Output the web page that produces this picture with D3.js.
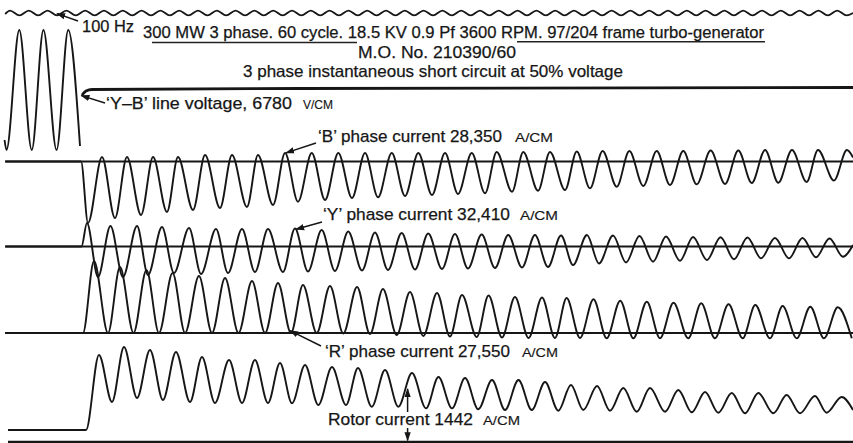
<!DOCTYPE html>
<html lang="en">
<head>
<meta charset="UTF-8" />
<title>3 phase short circuit oscillogram</title>
<script src="https://d3js.org/d3.v7.min.js"></script>
<style>
  body { margin: 0; background: #fff; font-family: "Liberation Sans", Arial, sans-serif; }
  svg { display: block; }
  .trace { fill: none; stroke: #161616; stroke-width: 1.9px; stroke-linejoin: round; }
  .thick { fill: none; stroke: #161616; stroke-width: 2.8px; }
  .zero { stroke: #161616; stroke-width: 2.1px; }
  .rule { stroke: #222; stroke-width: 1.5px; }
  .arrow { stroke: #161616; stroke-width: 1.5px; }
  text { fill: #161616; stroke: #161616; stroke-width: 0.25px; }
</style>
</head>
<body>
<svg id="chart"></svg>
<script>
// time in ms from the moment of the short circuit, deflection in mm of film

const headerText = [
  "100 Hz",
  "300 MW 3 phase. 60 cycle. 18.5 KV 0.9 Pf 3600 RPM. 97/204 frame turbo-generator",
  "M.O. No. 210390/60",
  "3 phase instantaneous short circuit at 50% voltage"
];
const traceNames = ["‘Y–B’ line voltage, 6780", "‘B’ phase current 28,350", "‘Y’ phase current 32,410",
                    "‘R’ phase current 27,550", "Rotor current 1442"];
const traceUnits = ["V/CM", "A/CM", "A/CM", "A/CM", "A/CM"];

// 100 Hz timing wave, peaks and troughs
const timing100Hz = [[-48,-0.5],[-45,1.2],[-39.1,-1.2],[-33.25,1.2],[-27.4,-1.2],[-21.5,1.2],[-15.6,-1.2],[-9.75,1.2],[-3.9,-1.2],
  [2,1.2],[7.9,-1.2],[13.75,1.2],[19.6,-1.2],[25.5,1.2],[31.4,-1.2],[37.25,1.2],[43.1,-1.2],[49,1.2],[54.9,-1.2],
  [60.75,1.2],[66.6,-1.2],[72.5,1.2],[78.4,-1.2],[84.25,1.2],[90.1,-1.2],[96,1.2],[101.9,-1.2],[107.75,1.2],[113.6,-1.2],
  [119.5,1.2],[125.4,-1.2],[131.25,1.2],[137.1,-1.2],[143,1.2],[148.9,-1.2],[154.75,1.2],[160.6,-1.2],[166.5,1.2],[172.4,-1.2],
  [178.25,1.2],[184.1,-1.2],[190,1.2],[195.9,-1.2],[201.75,1.2],[207.6,-1.2],[213.5,1.2],[219.4,-1.2],[225.25,1.2],[231.1,-1.2],
  [237,1.2],[242.9,-1.2],[248.75,1.2],[254.6,-1.2],[260.5,1.2],[266.4,-1.2],[272.25,1.2],[278.1,-1.2],[284,1.2],[289.9,-1.2],
  [295.75,1.2],[301.6,-1.2],[307.5,1.2],[313.4,-1.2],[319.25,1.2],[325.1,-1.2],[331,1.2],[336.9,-1.2],[342.75,1.2],[348.6,-1.2],
  [354.5,1.2],[360.4,-1.2],[366.25,1.2],[372.1,-1.2],[378,1.2],[383.9,-1.2],[389.75,1.2],[395.6,-1.2],[401.5,1.2],[407.4,-1.2],
  [413.25,1.2],[419.1,-1.2],[425,1.2],[430.9,-1.2],[436.75,1.2],[442.6,-1.2],[448.5,1.2],[454.4,-1.2],[460.25,1.2],[466.1,-1.2],
  [472,1.2],[477.9,-1.2],[481.9,0]];

// Y-B line voltage before and after the fault
const voltageBefore = [[-48.4,-25],[-47.2,-30],[-39.2,30],[-31.4,-30],[-24.1,30],[-15.9,-30],[-8.6,30],[-1.25,-28]];
const voltageAfter = [[0,-2.5],[2.5,-0.5],[6.25,0.25],[136,0.75],[481.9,1.25]];

const bPhase = [[-48,0],[-0.6,0],[3.75,-30.75],[12.5,2.25],[20.6,-28.25],[28.1,2.25],[36.9,-26.75],[44.4,2.25],[53.1,-25.25],
  [60,2.25],[69.4,-24.25],[76.9,3.25],[86.25,-23.25],[93.75,3.25],[103.1,-22.75],[110,3.25],[119.4,-21.75],[126.9,4.25],
  [135,-20.1],[143.6,4.25],[151.9,-19.25],[160.2,4.25],[168.75,-18.25],[176.9,4.25],[185,-17.9],[193.6,4.25],[201.9,-17.25],
  [210.2,4.25],[218.75,-16.75],[226.9,4.25],[235,-16.25],[243.6,4.25],[251.9,-15.9],[259.2,4.75],[268.75,-15.1],[275.8,4.75],
  [285,-14.6],[292.5,4.75],[301.9,-14.25],[309.2,5],[317.5,-13.4],[325.4,5.25],[334.2,-12.6],[342.1,5.25],[350.8,-12.25],
  [359.2,5.25],[367.5,-11.75],[375.8,5.25],[384.2,-11.4],[392.9,5.5],[401.9,-11.25],[410.2,5.5],[418.6,-10.75],[426.9,5.75],
  [435.2,-10.6],[443.75,5.75],[452.9,-10.25],[460,5.75],[470,-9.5],[478.1,5.75],[481.9,2]];

const yPhase = [[-48,0],[-0.3,0],[3.1,11.75],[10,-15.25],[17.8,10.25],[25.6,-15.25],[34.4,10.25],[41.25,-14.25],[50,9.75],
  [57.5,-13.25],[66.9,9.25],[74.4,-13.75],[83.75,8.75],[91.25,-13.25],[100,8.75],[108.1,-12.75],[116.25,8.75],[125.6,-12.75],
  [133.1,9],[141.25,-12.5],[149.8,8.25],[158.1,-12.25],[166.4,7.5],[175,-12],[183.1,7],[191.25,-11.75],[199.8,6.75],
  [208.1,-11.5],[216.4,6.5],[225,-11.25],[233.1,6.25],[241.25,-11],[249.8,6],[258.1,-10.75],[266.4,5.75],[275,-10.5],
  [283.1,5.75],[291.25,-10.25],[299.4,5.5],[306.9,-9.25],[315.6,5.75],[323.1,-8.5],[331.9,5.5],[340,-8],[348.4,5.25],
  [356.9,-7.6],[365,5],[373.75,-7.1],[381.9,4.75],[390.6,-6.75],[399.1,4.6],[407.5,-6.4],[415.9,4.5],[424.4,-5.9],
  [433.1,4.25],[441.9,-5.9],[450.3,4.25],[458.75,-5.4],[467.2,4],[475.6,-5.1],[481.9,0.75]];

const rPhase = [[-48,0],[0.6,0],[7.5,36],[16.25,0],[23.75,33],[32.2,0],[40.3,31.5],[48.1,0],[56.6,30],[64.4,0],[73.1,28.5],
  [81.25,0],[89.4,27.5],[97.8,0],[106.25,26],[114.4,0],[122.5,25],[130.6,0],[138.1,24],[146.7,0],[155,23.5],[163.3,-0.25],
  [171.9,23],[180,-0.5],[188.1,22],[196.7,-1],[205,20.5],[213.3,-1.5],[221.9,20],[230,-1.75],[237.5,19],[246.7,-2],
  [254.1,18.75],[262.5,-2.25],[270.6,18],[279.1,-2.5],[287.5,17.75],[295.6,-2.5],[302.9,17.5],[311.25,-2.5],[319.7,16.85],
  [327.9,-2.65],[336.4,16.15],[344.6,-2.65],[353,15.65],[361.25,-2.65],[369.7,15.15],[378.9,-2.65],[387,14.85],[395.6,-2.65],
  [404.1,14.35],[412.9,-2.65],[420.8,14],[430,-2.65],[437.9,13.5],[446.7,-2.65],[455.2,13.15],[463.75,-2.65],[472.4,12.85],
  [481.1,-2.65]];

const rotor = [[-46.25,6],[2.5,6],[10.6,43.5],[18.75,20],[26.25,47.5],[34.4,22],[42.5,46],[50.6,21],[58.75,45],[67.5,20],
  [75,42.5],[83.1,19.5],[91.9,41],[100,19.5],[108.1,41],[116.25,19.5],[123.75,39.5],[131.25,19.35],[139.4,38.5],[147.7,18.5],
  [156.25,37.5],[165,18.5],[172.5,37],[181.1,17.65],[189.4,36],[197.7,17.65],[206.25,34.5],[215,16.85],[222.8,32.5],
  [231.25,16.85],[239.4,32],[247.7,16.35],[256.25,31],[264.4,16],[272.8,31],[281.1,16],[289.4,30],[297.7,15.65],[305.6,28.5],
  [313.3,16],[321.9,28],[330,15.65],[338.3,27],[346.7,15.15],[355,27],[364.4,15.15],[372.7,26],[381.1,14.85],[389.4,25],
  [397.7,14.65],[406.1,24.5],[414.4,14.35],[422.7,24.5],[432.1,14.35],[440.4,23.5],[448.75,14.35],[458.1,23],[465.4,14.65],
  [474.8,22.5],[481.9,16]];

const width = 853, height = 443;

const svg = d3.select("#chart").attr("width", width).attr("height", height);

const x = d3.scaleLinear().domain([-51.25, 481.875]).range([0, width]);

// 2 px per mm, every trace hangs on its own zero line
const traceY = zero => d3.scaleLinear().domain([0, 10]).range([zero, zero - 20]);
const y = {
  timing: traceY(13),
  voltage: traceY(90),
  b: traceY(161.5),
  yp: traceY(246.5),
  r: traceY(333),
  rotor: traceY(442)
};

svg.append("defs").append("marker")
  .attr("id", "head")
  .attr("viewBox", "0 0 10 10")
  .attr("refX", 9).attr("refY", 5)
  .attr("markerWidth", 9).attr("markerHeight", 9)
  .attr("markerUnits", "userSpaceOnUse")
  .attr("orient", "auto")
  .append("path")
  .attr("d", "M0,1.5 L10,5 L0,8.5 Z")
  .attr("fill", "#161616");

// zero lines
[y.b, y.yp, y.r].forEach(s => {
  svg.append("line").attr("class", "zero")
    .attr("x1", x(-48)).attr("x2", width)
    .attr("y1", s(0)).attr("y2", s(0));
});
svg.append("line").attr("class", "zero").style("stroke-width", "2.5px")
  .attr("x1", x(-46.25)).attr("x2", width)
  .attr("y1", y.rotor(0)).attr("y2", y.rotor(0));

const line = scale => d3.line()
  .x(d => x(d[0]))
  .y(d => scale(d[1]))
  .curve(d3.curveMonotoneX);

function trace(data, scale, cls) {
  svg.append("path").datum(data).attr("class", cls || "trace").attr("d", line(scale));
}

trace(timing100Hz, y.timing);
trace(voltageBefore, y.voltage);
trace(voltageAfter, y.voltage, "thick");
trace(bPhase, y.b);
trace(yPhase, y.yp);
trace(rPhase, y.r);
trace(rotor, y.rotor);

// header text
function label(str, px, py, size, len) {
  const t = svg.append("text")
    .attr("x", px).attr("y", py)
    .attr("font-size", size)
    .text(str);
  if (len) t.attr("textLength", len).attr("lengthAdjust", "spacingAndGlyphs");
  return t;
}

label(headerText[0], 82, 32, 16, 52);
label(headerText[1], 143, 38, 16, 621);
label(headerText[2], 358, 58, 16.5, 158);
label(headerText[3], 243, 76.5, 16.5, 380);

svg.append("line").attr("class", "rule").attr("x1", 152).attr("x2", 357).attr("y1", 42.6).attr("y2", 42.6);
svg.append("line").attr("class", "rule").attr("x1", 517).attr("x2", 765).attr("y1", 41.8).attr("y2", 41.8);

// trace labels: name, units, where the arrow points
const traceLabels = [
  { x: 106, y: 109, len: 186, ux: 303, ulen: 30, from: [105, 103], to: [x(-0.4), y.voltage(-2.8)] },
  { x: 318, y: 141.5, len: 184, ux: 515, ulen: 38, from: [316, 143], to: [x(127.5), y.b(4.3)] },
  { x: 323, y: 220, len: 187, ux: 520, ulen: 38, from: [322, 222], to: [x(133.8), y.yp(8.6)] },
  { x: 325, y: 356.5, len: 185, ux: 522, ulen: 36, from: [321, 346], to: [x(130), y.r(1.2)] },
  { x: 328, y: 425, len: 145, ux: 483, ulen: 37 }
];

traceLabels.forEach((d, i) => {
  label(traceNames[i], d.x, d.y, 17, d.len);
  label(traceUnits[i], d.ux, d.y, 12.5, d.ulen).style("stroke-width", "0.15px");
  if (d.from) {
    svg.append("line").attr("class", "arrow")
      .attr("x1", d.from[0]).attr("y1", d.from[1])
      .attr("x2", d.to[0]).attr("y2", d.to[1])
      .attr("marker-end", "url(#head)");
  }
});

// 100 Hz pointer
svg.append("line").attr("class", "arrow")
  .attr("x1", 78).attr("y1", 21)
  .attr("x2", x(-15.6)).attr("y2", y.timing(-0.3))
  .attr("marker-end", "url(#head)");

// rotor current double pointer
const rx = x(203.5);
svg.append("line").attr("class", "arrow")
  .attr("x1", rx).attr("y1", 412).attr("x2", rx).attr("y2", y.rotor(26.5))
  .attr("marker-end", "url(#head)");
svg.append("line").attr("class", "arrow")
  .attr("x1", rx).attr("y1", 428).attr("x2", rx).attr("y2", y.rotor(0.8))
  .attr("marker-end", "url(#head)");
</script>
</body>
</html>
